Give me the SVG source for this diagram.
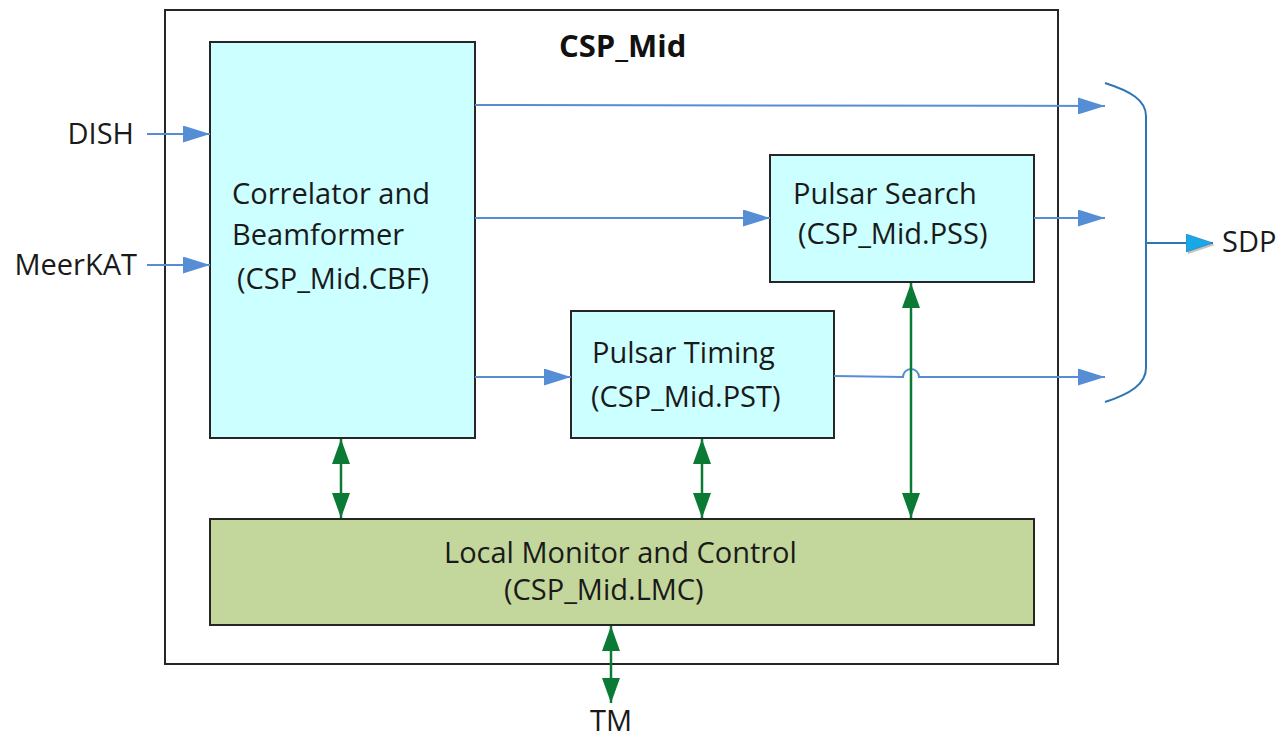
<svg xmlns="http://www.w3.org/2000/svg" width="1286" height="738" viewBox="0 0 1286 738">
  <style>
    .lbl { font-family: "Open Sans", "Liberation Sans", sans-serif; font-size: 29px; fill: #1a1a1a; }
    .title { font-family: "Open Sans", "Liberation Sans", sans-serif; font-size: 31px; font-weight: bold; fill: #111; }
    .box { fill: #CCFFFF; stroke: #262626; stroke-width: 2; }
    .lmc { fill: #C3D69B; stroke: #262626; stroke-width: 2; }
    .outer { fill: #ffffff; stroke: #262626; stroke-width: 2; }
    .blue { fill: none; stroke: #558ED5; stroke-width: 2; }
    .green { fill: none; stroke: #0B7A35; stroke-width: 2.5; }
  </style>
  <defs>
    <marker id="ab" markerUnits="userSpaceOnUse" markerWidth="27" markerHeight="17" refX="27" refY="8.5" orient="auto">
      <path d="M0,0 L27,8.5 L0,17 z" fill="#558ED5"/>
    </marker>
    <marker id="asdp" markerUnits="userSpaceOnUse" markerWidth="30" markerHeight="22" refX="27" refY="9" orient="auto">
      <path d="M2,2 L29,11 L2,20 z" fill="#999999" opacity="0.6"/>
      <path d="M0,0 L27,9 L0,18 z" fill="#18A8E6" stroke="#2E75B6" stroke-width="0.6"/>
    </marker>
    <marker id="ag" markerUnits="userSpaceOnUse" markerWidth="25" markerHeight="18" refX="25" refY="9" orient="auto-start-reverse">
      <path d="M0,0 L25,9 L0,18 z" fill="#0B7A35"/>
    </marker>
  </defs>

  <rect id="csp-mid" class="outer" x="165" y="10" width="893" height="654"/>
  <text class="title" x="559" y="57">CSP_Mid</text>

  <g id="cbf">
    <rect class="box" x="210" y="42" width="265" height="396"/>
    <text class="lbl" x="232" y="204">Correlator and</text>
    <text class="lbl" x="232" y="245">Beamformer</text>
    <text class="lbl" x="237" y="289">(CSP_Mid.CBF)</text>
  </g>

  <g id="pss">
    <rect class="box" x="770" y="155" width="264" height="127"/>
    <text class="lbl" x="793" y="204">Pulsar Search</text>
    <text class="lbl" x="798" y="244">(CSP_Mid.PSS)</text>
  </g>

  <g id="pst">
    <rect class="box" x="571" y="311" width="263" height="127"/>
    <text class="lbl" x="592" y="363">Pulsar Timing</text>
    <text class="lbl" x="591" y="407">(CSP_Mid.PST)</text>
  </g>

  <g id="lmc">
    <rect class="lmc" x="210" y="519" width="824" height="106"/>
    <text class="lbl" x="444" y="563">Local Monitor and Control</text>
    <text class="lbl" x="504" y="600">(CSP_Mid.LMC)</text>
  </g>

  <g id="dish">
    <text class="lbl" x="134" y="144" text-anchor="end">DISH</text>
  </g>
  <g id="meerkat">
    <text class="lbl" x="137" y="275" text-anchor="end">MeerKAT</text>
  </g>
  <g id="sdp">
    <path d="M1105,83 C1130,91 1146,100 1146,116 L1146,368 C1146,384 1130,394 1105,402" fill="none" stroke="#2E75B6" stroke-width="2"/>
    <text class="lbl" x="1222" y="252">SDP</text>
  </g>
  <g id="tm">
    <text class="lbl" x="611" y="731" text-anchor="middle">TM</text>
  </g>

  <g id="connectors">
    <line class="blue" x1="147" y1="134" x2="210" y2="134" marker-end="url(#ab)"/>
    <line class="blue" x1="147" y1="265" x2="210" y2="265" marker-end="url(#ab)"/>
    <path class="blue" d="M475,105 L1105,106" marker-end="url(#ab)"/>
    <line class="blue" x1="475" y1="218" x2="770" y2="218" marker-end="url(#ab)"/>
    <line class="blue" x1="1034" y1="218" x2="1105" y2="218" marker-end="url(#ab)"/>
    <line class="blue" x1="475" y1="377" x2="571" y2="377" marker-end="url(#ab)"/>
    <path class="blue" d="M834,376 L903,377 A8,8 0 0 1 919,377 L1105,377" marker-end="url(#ab)"/>
    <line x1="1146" y1="243" x2="1213" y2="243" stroke="#2E75B6" stroke-width="2" marker-end="url(#asdp)"/>

    <line class="green" x1="341" y1="439" x2="341" y2="518" marker-start="url(#ag)" marker-end="url(#ag)"/>
    <line class="green" x1="702" y1="439" x2="702" y2="518" marker-start="url(#ag)" marker-end="url(#ag)"/>
    <line class="green" x1="911" y1="283" x2="911" y2="518" marker-start="url(#ag)" marker-end="url(#ag)"/>
    <line class="green" x1="611" y1="626" x2="611" y2="703" marker-start="url(#ag)" marker-end="url(#ag)"/>
  </g>
</svg>
